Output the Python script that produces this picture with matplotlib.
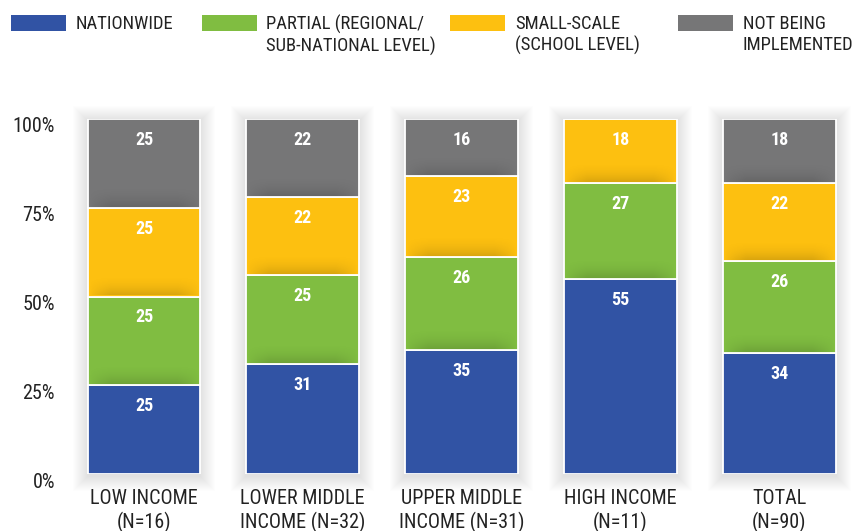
import matplotlib
matplotlib.use('Agg')
import matplotlib.pyplot as plt
import matplotlib.transforms as mtransforms
from matplotlib.patches import Rectangle
import numpy as np

categories = ['LOW INCOME\n(N=16)', 'LOWER MIDDLE\nINCOME (N=32)', 'UPPER MIDDLE\nINCOME (N=31)',
              'HIGH INCOME\n(N=11)', 'TOTAL\n(N=90)']
nationwide = [25, 31, 35, 55, 34]
partial = [25, 25, 26, 27, 26]
small_scale = [25, 22, 23, 18, 22]
not_implemented = [25, 22, 16, 0, 18]
series = [nationwide, partial, small_scale, not_implemented]
series_labels = ['NATIONWIDE', 'PARTIAL (REGIONAL/\nSUB-NATIONAL LEVEL)',
                 'SMALL-SCALE\n(SCHOOL LEVEL)', 'NOT BEING\nIMPLEMENTED']
colors = ['#3153A4', '#80BD41', '#FDC010', '#767677']
yticks = [0, 25, 50, 75, 100]
ytick_labels = ['0%', '25%', '50%', '75%', '100%']

FONT = ['Roboto Condensed', 'Archivo Narrow', 'DejaVu Sans']
FONT_BOLD = ['Roboto Condensed', 'Barlow Semi Condensed', 'DejaVu Sans']
plt.rcParams['font.family'] = FONT

W, H = 865, 531
fig = plt.figure(figsize=(W / 100, H / 100), dpi=100)
fig.patch.set_facecolor('white')
ax = fig.add_axes([64.6 / W, 57 / H, 794 / W, 355 / H])

x = np.arange(len(categories))
bw = 0.71
px_x = 5.0 / 794.0      # data units per pixel (x)
px_y = 100.0 / 355.0    # data units per pixel (y)

# soft outer shadow
totals = np.sum(series, axis=0)
for xi, tot in zip(x, totals):
    for e in range(1, 16):
        ax.add_patch(Rectangle((xi - bw / 2 - e * px_x, -e * px_y - 2 * px_y),
                               bw + 2 * e * px_x, tot + 2 * e * px_y,
                               facecolor='black', edgecolor='none', alpha=0.008, zorder=1,
                               clip_on=False))

bottom = np.zeros(len(categories))
for k, (vals, col) in enumerate(zip(series, colors)):
    vals = np.array(vals, dtype=float)
    ax.bar(x, vals, bw, bottom=bottom, color=col, edgecolor='white', linewidth=1.3, zorder=2)
    # inner shading at bottom of segments stacked on another one
    if k > 0:
        for xi, v, b in zip(x, vals, bottom):
            if v > 0 and b > 0:
                hgt = 22 * px_y
                ny, nx = 60, 80
                t = np.linspace(0, 1, ny)[:, None]
                u = np.linspace(0, 1, nx)[None, :]
                hprof = np.clip(np.minimum(u, 1 - u) / 0.2, 0, 1) ** 0.7
                alpha = 0.14 * (1 - t) ** 2 * hprof
                img = np.zeros((ny, nx, 4))
                img[..., 3] = alpha
                ax.imshow(img, extent=[xi - bw / 2 + 1 * px_x, xi + bw / 2 - 1 * px_x,
                                       b + 1 * px_y, b + hgt],
                          origin='lower', aspect='auto', zorder=3, interpolation='bilinear')
    for xi, v, b in zip(x, vals, bottom):
        if v > 0:
            ax.annotate(f'{int(v)}', xy=(xi, b + v), xytext=(0, -21), textcoords='offset pixels',
                        ha='center', va='center', color='white', fontsize=13, fontweight='bold',
                        family=FONT_BOLD, zorder=5)
    bottom += vals

ax.set_xlim(-0.5, len(categories) - 0.5)
ax.set_ylim(0, 100)
for s in ax.spines.values():
    s.set_visible(False)
ax.set_xticks(x, categories, fontsize=14.5, color='#222222', linespacing=1.2)
ax.set_yticks(yticks, ytick_labels, fontsize=14.5, color='#222222')
ax.tick_params(axis='both', length=0)
ax.tick_params(axis='x', pad=11)
ax.tick_params(axis='y', pad=7)
off = mtransforms.ScaledTranslation(0, -6 / 100, fig.dpi_scale_trans)
for lab in ax.get_yticklabels():
    lab.set_transform(lab.get_transform() + off)

# legend (manual)
patch_x = [11, 202, 450, 678]
text_x = [76, 266, 515, 743]
for px, tx, col, lab in zip(patch_x, text_x, colors, series_labels):
    fig.add_artist(Rectangle((px / W, 1 - 31 / H), 55 / W, 16 / H, transform=fig.transFigure,
                             facecolor=col, edgecolor='none'))
    fig.text(tx / W, 1 - 15 / H, lab, ha='left', va='top', fontsize=13.4, color='#222222',
             linespacing=1.2)

fig.savefig('out.png', dpi=100, facecolor='white')
